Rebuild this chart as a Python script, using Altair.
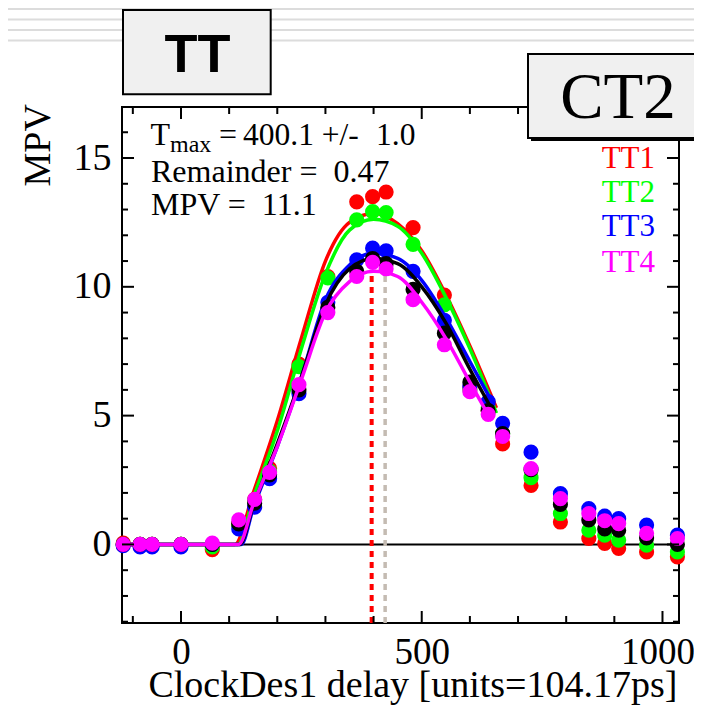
import altair as alt
import pandas as pd

W, H = 557, 516
X_DOM = [-122.5, 1034.3]
Y_DOM = [-3.05, 16.98]

# ---- measured points (delay, MPV) ----
x_pts = [-120, -85, -60, 0, 65, 120, 153, 184, 245, 305, 365, 398, 426, 482,
         547, 600, 638, 668, 727, 788, 847, 880, 909, 967, 1031]
tt1 = [0.05, 0.0, 0.0, 0.0, -0.2, 0.8, 1.75, 2.95, 7.0, 10.4, 13.3, 13.5, 13.68, 12.3,
       9.68, 6.1, 5.2, 3.9, 2.29, 0.87, 0.23, 0.04, -0.15, -0.29, -0.48]
tt2 = [0.0, 0.0, 0.0, 0.0, -0.1, 0.75, 1.7, 2.85, 6.9, 10.35, 12.6, 12.92, 12.88, 11.65,
       9.3, 6.0, 5.3, 4.3, 2.59, 1.2, 0.55, 0.36, 0.17, -0.03, -0.29]
tt3 = [-0.05, -0.1, -0.1, -0.1, 0.0, 0.6, 1.45, 2.55, 5.85, 9.4, 11.05, 11.5, 11.4, 10.6,
       8.7, 6.15, 5.54, 4.7, 3.58, 1.97, 1.39, 1.1, 1.0, 0.75, 0.36]
ttall = [0.0, 0.0, 0.0, 0.0, 0.0, 0.8, 1.6, 2.7, 6.0, 9.2, 10.6, 11.1, 10.9, 9.9,
         8.2, 6.3, 5.2, 4.3, 2.9, 1.55, 0.95, 0.6, 0.55, 0.25, 0.0]
tt4 = [0.0, 0.0, 0.0, 0.0, 0.05, 0.95, 1.75, 2.8, 6.2, 9.0, 10.4, 10.95, 10.7, 9.5,
       7.75, 5.93, 5.05, 4.19, 2.94, 1.78, 1.2, 0.92, 0.81, 0.43, 0.23]

# ---- fitted curves ----
fit1_x = [-122.5, 112, 150, 200, 250, 300, 350, 400, 450, 500, 550, 600, 655]
fit1_y = [0, 0, 2.0, 4.8, 8.0, 11.0, 12.5, 12.85, 12.45, 11.4, 9.7, 7.7, 5.3]
fit2_x = [-122.5, 118, 150, 200, 250, 300, 350, 400, 450, 500, 550, 600, 655]
fit2_y = [0, 0, 1.8, 4.4, 7.6, 10.5, 12.2, 12.62, 12.35, 11.3, 9.6, 7.6, 5.1]
fit3_x = [-122.5, 125, 150, 200, 250, 300, 350, 400, 450, 500, 550, 600, 650]
fit3_y = [0, 0, 1.4, 3.8, 6.5, 9.5, 10.85, 11.3, 11.1, 10.25, 8.8, 7.1, 5.4]
fitall_x = [-122.5, 122, 150, 200, 250, 300, 350, 400, 450, 500, 550, 600, 650]
fitall_y = [0, 0, 1.5, 3.9, 6.5, 9.3, 10.7, 11.1, 10.9, 10.0, 8.6, 6.8, 5.1]
fit4_x = [-122.5, 120, 150, 200, 250, 300, 350, 400, 450, 500, 550, 600, 645]
fit4_y = [0, 0, 1.55, 3.8, 6.4, 9.0, 10.2, 10.6, 10.4, 9.4, 8.0, 6.3, 4.8]

series = [
    ("TT1", tt1, fit1_x, fit1_y, "#ff0000"),
    ("TT2", tt2, fit2_x, fit2_y, "#00ff00"),
    ("TT3", tt3, fit3_x, fit3_y, "#0000ff"),
    ("ALL", ttall, fitall_x, fitall_y, "#000000"),
    ("TT4", tt4, fit4_x, fit4_y, "#ff00ff"),
]
legend_names = ["TT1", "TT2", "TT3", "TT4"]
legend_colors = ["#ff0000", "#00ff00", "#0000ff", "#ff00ff"]

t_max_line = 396
t_alt_line = 424
dotted_top = 10.6

x_major = [0, 500, 1000]
x_minor = [-100, 100, 200, 300, 400, 600, 700, 800, 900]
y_major = [0, 5, 10, 15]
y_minor = [-3, -2, -1, 1, 2, 3, 4, 6, 7, 8, 9, 11, 12, 13, 14, 16]

SERIF = "Liberation Serif"
xs = alt.Scale(domain=X_DOM, nice=False, zero=False)
ys = alt.Scale(domain=Y_DOM, nice=False, zero=False)

x_axis = alt.Axis(values=x_major, format="d", ticks=False, tickSize=0, domain=False, grid=False,
                  labelFont=SERIF, labelFontSize=37, labelColor="black", labelPadding=40,
                  labelOffset={"condition": {"test": "datum.value >= 1000", "value": -5}, "value": 0},
                  labelBaseline="alphabetic", labelFlush=False, labelOverlap=False,
                  title="ClockDes1 delay [units=104.17ps]", titleFont=SERIF, titleFontSize=38,
                  titleFontWeight="normal", titleColor="black", titleX=555, titleY=73,
                  titleAlign="right", titleBaseline="alphabetic")
y_axis = alt.Axis(values=y_major, ticks=False, tickSize=0, domain=False, grid=False,
                  labelFont=SERIF, labelFontSize=38, labelColor="black", labelPadding=11,
                  labelBaseline="middle", labelAlign="right", labelFlush=False, labelOverlap=False,
                  title="MPV", titleFont=SERIF, titleFontSize=38, titleFontWeight="normal",
                  titleColor="black", titleX=-73, titleY=79, titleAngle=270,
                  titleAlign="left", titleBaseline="alphabetic")


def X(field):
    return alt.X(field, scale=xs, axis=x_axis)


def Y(field):
    return alt.Y(field, scale=ys, axis=y_axis)


layers = []

# decoration lines above the plot
for yy in [-98, -87.5, -77, -66.5]:
    layers.append(alt.Chart().mark_rule(color="#dcdcdc", strokeWidth=2).encode(
        x=alt.value(-114), x2=alt.value(580), y=alt.value(yy)))

# zero line
layers.append(alt.Chart(pd.DataFrame({"z": [0]})).mark_rule(color="black", strokeWidth=2).encode(
    y=Y("z:Q"), x=alt.value(0), x2=alt.value(W)))

# dotted vertical lines
vl = pd.DataFrame({"x": [t_max_line], "y0": [Y_DOM[0]], "y1": [dotted_top]})
layers.append(alt.Chart(vl).mark_rule(color="#ff0000", strokeWidth=4, strokeDash=[6, 5]).encode(
    x=X("x:Q"), y=Y("y0:Q"), y2="y1:Q"))
vl2 = pd.DataFrame({"x": [t_alt_line], "y0": [Y_DOM[0]], "y1": [dotted_top]})
layers.append(alt.Chart(vl2).mark_rule(color="#c4bbb2", strokeWidth=3.5, strokeDash=[6, 5]).encode(
    x=X("x:Q"), y=Y("y0:Q"), y2="y1:Q"))

for name, vals, fx, fy, col in series:
    pdf = pd.DataFrame({"x": x_pts, "y": vals})
    layers.append(alt.Chart(pdf).mark_circle(size=230, opacity=1, color=col).encode(
        x=X("x:Q"), y=Y("y:Q")))
    cdf = pd.DataFrame({"x": fx, "y": fy})
    layers.append(alt.Chart(cdf).mark_line(color=col, strokeWidth=3.5, interpolate="monotone").encode(
        x=X("x:Q"), y=Y("y:Q")))


# ticks (inward, ROOT style)
def xticks(vals, length):
    d = pd.DataFrame({"v": vals})
    bot = alt.Chart(d).mark_rule(color="black", strokeWidth=2).encode(
        x=X("v:Q"), y=alt.value(H), y2=alt.value(H - length))
    top = alt.Chart(d).mark_rule(color="black", strokeWidth=2).encode(
        x=X("v:Q"), y=alt.value(0), y2=alt.value(length))
    return [bot, top]


def yticks(vals, length):
    d = pd.DataFrame({"v": vals})
    lft = alt.Chart(d).mark_rule(color="black", strokeWidth=2).encode(
        y=Y("v:Q"), x=alt.value(0), x2=alt.value(length))
    rgt = alt.Chart(d).mark_rule(color="black", strokeWidth=2).encode(
        y=Y("v:Q"), x=alt.value(W), x2=alt.value(W - length))
    return [lft, rgt]


layers += xticks(x_major, 12) + xticks(x_minor, 7) + yticks(y_major, 12) + yticks(y_minor, 6)


# annotation text
def txt(s, x, y, size, color="black", align="left", font=SERIF, weight="normal"):
    return alt.Chart(pd.DataFrame({"t": [s]})).mark_text(
        font=font, fontSize=size, color=color, align=align, baseline="alphabetic",
        fontWeight=weight).encode(text="t:N", x=alt.value(x), y=alt.value(y))


layers.append(txt("T", 28.5, 38, 32))
layers.append(txt("max", 48, 45, 24))
layers.append(txt("=", 97, 38, 32))
layers.append(txt("400.1 +/-", 121, 38, 31.5))
layers.append(txt("1.0", 254, 38, 31.5))
layers.append(txt("Remainder = \u00a00.47", 29, 74.7, 32))
layers.append(txt("MPV = \u00a011.1", 29, 108, 32))

for nm, col, by in zip(legend_names, legend_colors, [61.3, 94.7, 128.7, 164.7]):
    layers.append(txt(nm, 533, by, 31, color=col, align="right"))

# TT box
layers.append(alt.Chart().mark_rect(fill="#f0f0f0", stroke="black", strokeWidth=2).encode(
    x=alt.value(1), x2=alt.value(148.7), y=alt.value(-97), y2=alt.value(-12.7)))
layers.append(txt("TT", 75.5, -35, 54, align="center", font="Liberation Sans", weight="bold"))

# CT2 box with shadow
layers.append(alt.Chart().mark_rect(fill="black").encode(
    x=alt.value(409), x2=alt.value(600), y=alt.value(-50), y2=alt.value(34)))
layers.append(alt.Chart().mark_rect(fill="#f0f0f0", stroke="black", strokeWidth=2).encode(
    x=alt.value(406), x2=alt.value(600), y=alt.value(-53), y2=alt.value(31)))
layers.append(txt("CT2", 496, 11, 65, align="center"))

chart = alt.layer(*layers).properties(
    width=W, height=H,
    autosize=alt.AutoSizeParams(type="none"),
    padding={"left": 114, "top": 99, "right": 15, "bottom": 82},
    background="white",
).configure_view(stroke="black", strokeWidth=2)

chart.save("out.html", embed_options={"renderer": "svg", "actions": False})
